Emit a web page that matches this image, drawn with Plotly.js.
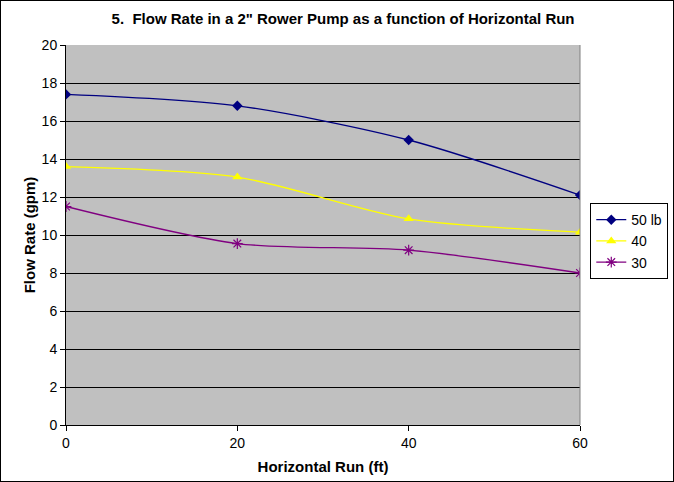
<!DOCTYPE html>
<html>
<head>
<meta charset="utf-8">
<script src="https://cdn.plot.ly/plotly-3.0.1.min.js"></script>
<style>
html,body{margin:0;padding:0;background:#fff;}
#chart{width:672px;height:480px;border:1px solid #000;}
</style>
</head>
<body>
<div id="chart"></div>
<script>
const runFt = [0, 20, 40, 60];
const flow50 = [17.4, 16.8, 15.0, 12.1];
const flow40 = [13.6, 13.05, 10.85, 10.15];
const flow30 = [11.5, 9.55, 9.2, 8.0];
const seriesNames = ["50 lb", "40", "30"];
const xTicks = [0, 20, 40, 60];
const yTicks = [0, 2, 4, 6, 8, 10, 12, 14, 16, 18, 20];

const font = "Arial, 'Liberation Sans', sans-serif";

const traces = [
  {x: runFt, y: flow50, name: seriesNames[0], mode: "lines+markers",
   line: {color: "#000080", width: 1.3, shape: "spline", smoothing: 0.8},
   marker: {symbol: "diamond", size: 8, color: "#000080"}},
  {x: runFt, y: flow40, name: seriesNames[1], mode: "lines+markers",
   line: {color: "#FFFF00", width: 1.3, shape: "spline", smoothing: 0.8},
   marker: {symbol: "triangle-up", size: 9, color: "#FFFF00"}},
  {x: runFt, y: flow30, name: seriesNames[2], mode: "lines+markers",
   line: {color: "#800080", width: 1.3, shape: "spline", smoothing: 0.8},
   marker: {symbol: "asterisk-open", size: 9, color: "#800080", line: {color: "#800080", width: 1.2}}}
];

const layout = {
  width: 672, height: 480,
  margin: {l: 65, r: 93, t: 44, b: 56, autoexpand: false},
  paper_bgcolor: "#ffffff",
  plot_bgcolor: "#C0C0C0",
  font: {family: font, size: 14, color: "#000"},
  title: {text: "<b>5.  Flow Rate in a 2\" Rower Pump as a function of Horizontal Run</b>",
          x: 0.509, xref: "container", y: 0.962, yref: "container", yanchor: "middle",
          font: {family: font, size: 15, color: "#000"}},
  xaxis: {range: [0, 60], tickvals: xTicks, ticks: "outside", ticklen: 5, tickcolor: "#000",
          showgrid: false, zeroline: false, showline: true, linecolor: "#000", linewidth: 1,
          mirror: false, tickfont: {size: 14},
          title: {text: "<b>Horizontal Run (ft)</b>", font: {size: 15}, standoff: 11}},
  yaxis: {range: [0, 20], tickvals: yTicks, ticks: "outside", ticklen: 5, tickcolor: "#000",
          showgrid: true, gridcolor: "#000", gridwidth: 1, zeroline: false,
          showline: true, linecolor: "#000", linewidth: 1, tickfont: {size: 14},
          title: {text: "<b>Flow Rate (gpm)</b>", font: {size: 15}, standoff: 2}},
  shapes: [{type: "line", xref: "paper", yref: "paper", x0: 1, x1: 1, y0: 0, y1: 1,
            line: {color: "#808080", width: 1}}],
  legend: {x: 1.02, xanchor: "left", y: 0.584, yanchor: "top",
           bgcolor: "#fff", bordercolor: "#000", borderwidth: 1,
           font: {size: 14}, itemwidth: 30},
  showlegend: true
};

Plotly.newPlot("chart", traces, layout, {staticPlot: true});
</script>
</body>
</html>
